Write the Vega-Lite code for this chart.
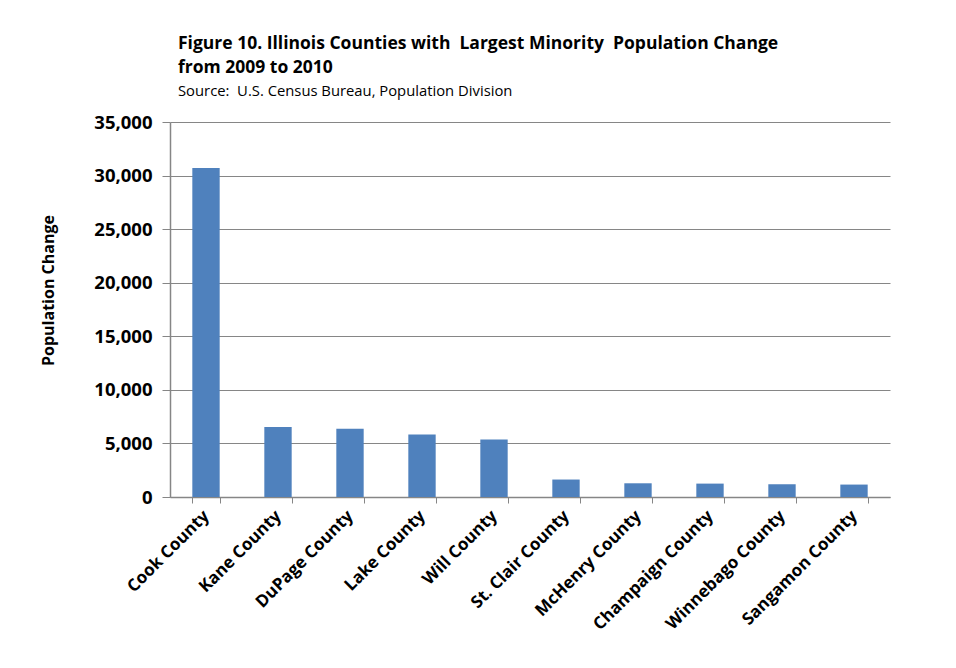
{
  "$schema": "https://vega.github.io/schema/vega-lite/v6.json",
  "width": 720,
  "height": 375,
  "autosize": {"type": "none"},
  "padding": {"left": 170, "top": 122, "right": 66, "bottom": 171},
  "background": "white",
  "title": {
    "text": ["Figure 10. Illinois Counties with\u00a0 Largest Minority\u00a0 Population Change", "from 2009 to 2010"],
    "subtitle": "Source:\u00a0 U.S. Census Bureau, Population Division",
    "anchor": "start",
    "frame": "group",
    "dx": 8,
    "offset": 14,
    "font": "Open Sans",
    "fontSize": 17.5,
    "fontWeight": "bold",
    "lineHeight": 24,
    "color": "black",
    "subtitleFont": "Open Sans",
    "subtitleFontSize": 14.8,
    "subtitleColor": "black",
    "subtitlePadding": 8
  },
  "data": {
    "values": [
      {"county": "Cook County", "change": 30700},
      {"county": "Kane County", "change": 6530},
      {"county": "DuPage County", "change": 6370},
      {"county": "Lake County", "change": 5840},
      {"county": "Will County", "change": 5370},
      {"county": "St. Clair County", "change": 1630},
      {"county": "McHenry County", "change": 1280},
      {"county": "Champaign County", "change": 1250},
      {"county": "Winnebago County", "change": 1190},
      {"county": "Sangamon County", "change": 1160}
    ]
  },
  "mark": {"type": "bar", "color": "#4F81BD"},
  "encoding": {
    "x": {
      "field": "county",
      "type": "nominal",
      "sort": null,
      "scale": {"paddingInner": 0.62, "paddingOuter": 0.31},
      "axis": {
        "title": null,
        "labelAngle": -45,
        "labelAlign": "right",
        "labelBaseline": "middle",
        "labelFont": "Open Sans",
        "labelFontSize": 17,
        "labelFontWeight": "bold",
        "labelColor": "black",
        "labelPadding": 10,
        "tickBand": "extent",
        "tickSize": 6,
        "tickColor": "#868686",
        "domainColor": "#868686",
        "domainWidth": 1.5
      }
    },
    "y": {
      "field": "change",
      "type": "quantitative",
      "scale": {"domain": [0, 35000]},
      "axis": {
        "title": "Population Change",
        "titleFont": "Open Sans",
        "titleFontSize": 16,
        "titleFontWeight": "bold",
        "titleColor": "black",
        "titleX": -122,
        "titleY": 168,
        "titleAngle": -90,
        "titleAlign": "center",
        "titleBaseline": "middle",
        "values": [0, 5000, 10000, 15000, 20000, 25000, 30000, 35000],
        "format": ",.0f",
        "labelFont": "Open Sans",
        "labelFontSize": 18.5,
        "labelFontWeight": "bold",
        "labelColor": "black",
        "labelPadding": 10,
        "tickSize": 8,
        "tickColor": "#868686",
        "domainColor": "#868686",
        "domainWidth": 1.5,
        "grid": true,
        "gridColor": "#868686",
        "gridWidth": 1
      }
    }
  },
  "config": {
    "view": {"stroke": null}
  }
}
